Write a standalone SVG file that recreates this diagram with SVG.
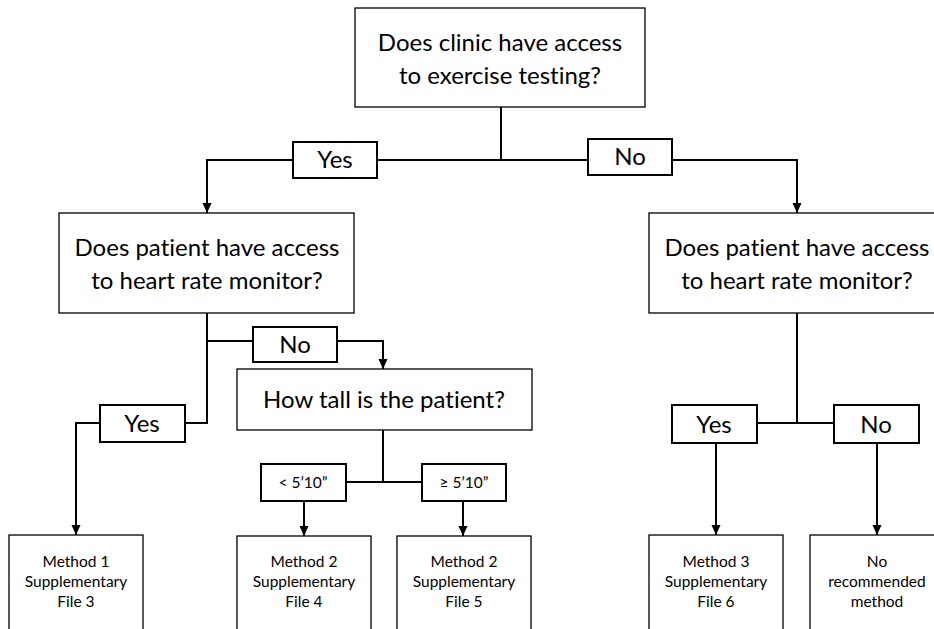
<svg xmlns="http://www.w3.org/2000/svg" width="934" height="629" viewBox="0 0 934 629">
<defs>
<style>
.box{fill:#fff;stroke:#000;stroke-width:1.3}
.lbl{fill:#fff;stroke:#000;stroke-width:2}
.con{fill:none;stroke:#000;stroke-width:2}
text{font-variant-ligatures:none;font-feature-settings:"liga" 0,"clig" 0}
.big{font-family:Lato,"Liberation Sans",sans-serif;font-size:24px;fill:#000;text-anchor:middle}
.sm{font-family:Lato,"Liberation Sans",sans-serif;font-size:15.5px;fill:#000;text-anchor:middle}
</style>
<marker id="ah" markerUnits="userSpaceOnUse" markerWidth="10" markerHeight="10" viewBox="0 0 10 10" refX="10" refY="5" orient="auto">
<path d="M0,0.5 L10,5 L0,9.5 z" fill="#000"/>
</marker>
</defs>
<rect width="934" height="629" fill="#fff"/>
<g id="connectors">
<path class="con" d="M501,107 V160"/>
<path class="con" d="M501,160 H207 V213" marker-end="url(#ah)"/>
<path class="con" d="M501,160 H797 V213" marker-end="url(#ah)"/>
<path class="con" d="M207,313 V423 H76 V535" marker-end="url(#ah)"/>
<path class="con" d="M207,341 H383 V369" marker-end="url(#ah)"/>
<path class="con" d="M383,430 V482"/>
<path class="con" d="M383,482 H304 V536" marker-end="url(#ah)"/>
<path class="con" d="M383,482 H463 V536" marker-end="url(#ah)"/>
<path class="con" d="M797,313 V423"/>
<path class="con" d="M797,423 H716 V535" marker-end="url(#ah)"/>
<path class="con" d="M797,423 H877 V535" marker-end="url(#ah)"/>
</g>
<g id="q-clinic">
<rect class="box" x="355" y="8" width="290" height="99"/>
<text class="big" x="500" y="51">Does clinic have access</text>
<text class="big" x="500" y="84">to exercise testing?</text>
</g>
<g id="lbl-yes-top">
<rect class="lbl" x="293" y="142" width="84" height="36"/>
<text class="big" x="335" y="168">Yes</text>
</g>
<g id="lbl-no-top">
<rect class="lbl" x="588" y="139" width="84" height="36"/>
<text class="big" x="630" y="165">No</text>
</g>
<g id="q-hr-left">
<rect class="box" x="59" y="213" width="295" height="100"/>
<text class="big" x="207" y="256">Does patient have access</text>
<text class="big" x="207" y="289">to heart rate monitor?</text>
</g>
<g id="q-hr-right">
<rect class="box" x="649" y="213" width="296" height="100"/>
<text class="big" x="797" y="256">Does patient have access</text>
<text class="big" x="797" y="289">to heart rate monitor?</text>
</g>
<g id="lbl-no-left">
<rect class="lbl" x="253" y="327" width="84" height="35"/>
<text class="big" x="295" y="353">No</text>
</g>
<g id="lbl-yes-left">
<rect class="lbl" x="100" y="405" width="85" height="37"/>
<text class="big" x="142" y="432">Yes</text>
</g>
<g id="q-tall">
<rect class="box" x="237" y="369" width="295" height="61"/>
<text class="big" x="384" y="408">How tall is the patient?</text>
</g>
<g id="lbl-short">
<rect class="lbl" x="261" y="464" width="85" height="37"/>
<text class="sm" x="303" y="488">&lt; 5’10”</text>
</g>
<g id="lbl-tall">
<rect class="lbl" x="422" y="464" width="84" height="37"/>
<text class="sm" x="464" y="488">≥ 5’10”</text>
</g>
<g id="lbl-yes-right">
<rect class="lbl" x="672" y="405" width="85" height="38"/>
<text class="big" x="714" y="433">Yes</text>
</g>
<g id="lbl-no-right">
<rect class="lbl" x="834" y="405" width="85" height="38"/>
<text class="big" x="876" y="433">No</text>
</g>
<g id="m1">
<rect class="box" x="9" y="535" width="134" height="110"/>
<text class="sm" x="76" y="567">Method 1</text>
<text class="sm" x="76" y="587">Supplementary</text>
<text class="sm" x="76" y="607">File 3</text>
</g>
<g id="m2a">
<rect class="box" x="237" y="536" width="134" height="110"/>
<text class="sm" x="304" y="567">Method 2</text>
<text class="sm" x="304" y="587">Supplementary</text>
<text class="sm" x="304" y="607">File 4</text>
</g>
<g id="m2b">
<rect class="box" x="397" y="536" width="134" height="110"/>
<text class="sm" x="464" y="567">Method 2</text>
<text class="sm" x="464" y="587">Supplementary</text>
<text class="sm" x="464" y="607">File 5</text>
</g>
<g id="m3">
<rect class="box" x="649" y="535" width="134" height="110"/>
<text class="sm" x="716" y="567">Method 3</text>
<text class="sm" x="716" y="587">Supplementary</text>
<text class="sm" x="716" y="607">File 6</text>
</g>
<g id="none">
<rect class="box" x="810" y="535" width="134" height="110"/>
<text class="sm" x="877" y="567">No</text>
<text class="sm" x="877" y="587">recommended</text>
<text class="sm" x="877" y="607">method</text>
</g>
</svg>
